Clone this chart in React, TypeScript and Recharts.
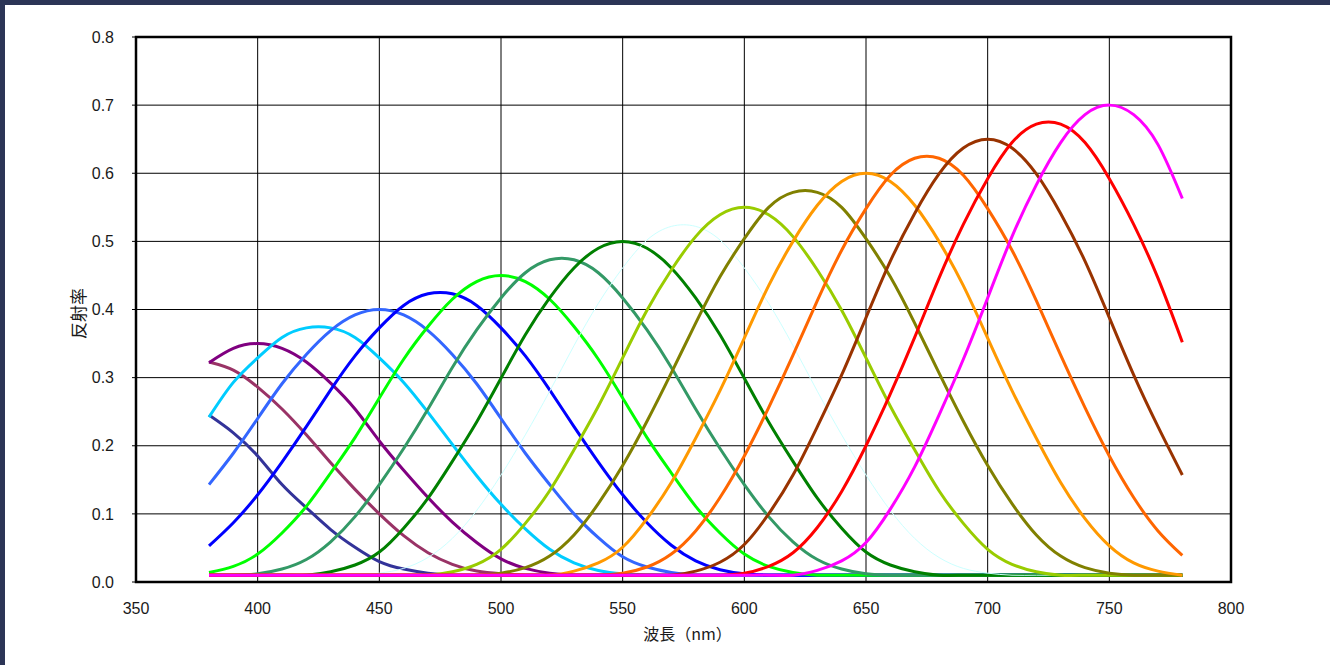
import React from "react";
import {
  LineChart, Line, XAxis, YAxis, CartesianGrid, ReferenceArea, Label,
} from "recharts";

// Wavelength samples (nm), every 10 nm
const WAVELENGTHS = [
  380, 390, 400, 410, 420, 430, 440, 450, 460, 470,
  480, 490, 500, 510, 520, 530, 540, 550, 560, 570,
  580, 590, 600, 610, 620, 630, 640, 650, 660, 670,
  680, 690, 700, 710, 720, 730, 740, 750, 760, 770, 780,
];

// Reflectance curves (one per peak wavelength)
const R350 = [0.245, 0.219, 0.185, 0.143, 0.109, 0.077, 0.051, 0.030, 0.019, 0.013,
  0.01, 0.01, 0.01, 0.01, 0.01, 0.01, 0.01, 0.01, 0.01, 0.01,
  0.01, 0.01, 0.01, 0.01, 0.01, 0.01, 0.01, 0.01, 0.01, 0.01,
  0.01, 0.01, 0.01, 0.01, 0.01, 0.01, 0.01, 0.01, 0.01, 0.01, 0.01];
const R375 = [0.323, 0.311, 0.286, 0.254, 0.216, 0.175, 0.136, 0.100, 0.068, 0.043,
  0.026, 0.016, 0.012, 0.01, 0.01, 0.01, 0.01, 0.01, 0.01, 0.01,
  0.01, 0.01, 0.01, 0.01, 0.01, 0.01, 0.01, 0.01, 0.01, 0.01,
  0.01, 0.01, 0.01, 0.01, 0.01, 0.01, 0.01, 0.01, 0.01, 0.01, 0.01];
const R400 = [0.322, 0.343, 0.350, 0.343, 0.323, 0.292, 0.254, 0.207, 0.164, 0.124,
  0.088, 0.058, 0.034, 0.020, 0.013, 0.01, 0.01, 0.01, 0.01, 0.01,
  0.01, 0.01, 0.01, 0.01, 0.01, 0.01, 0.01, 0.01, 0.01, 0.01,
  0.01, 0.01, 0.01, 0.01, 0.01, 0.01, 0.01, 0.01, 0.01, 0.01, 0.01];
const R425 = [0.242, 0.293, 0.329, 0.359, 0.373, 0.373, 0.359, 0.329, 0.293, 0.249,
  0.202, 0.156, 0.114, 0.078, 0.048, 0.028, 0.017, 0.012, 0.01, 0.01,
  0.01, 0.01, 0.01, 0.01, 0.01, 0.01, 0.01, 0.01, 0.01, 0.01,
  0.01, 0.01, 0.01, 0.01, 0.01, 0.01, 0.01, 0.01, 0.01, 0.01, 0.01];
const R450 = [0.143, 0.189, 0.240, 0.291, 0.334, 0.369, 0.392, 0.400, 0.392, 0.369,
  0.334, 0.291, 0.240, 0.189, 0.143, 0.100, 0.065, 0.037, 0.022, 0.014,
  0.01, 0.01, 0.01, 0.01, 0.01, 0.01, 0.01, 0.01, 0.01, 0.01,
  0.01, 0.01, 0.01, 0.01, 0.01, 0.01, 0.01, 0.01, 0.01, 0.01, 0.01];
const R475 = [0.053, 0.087, 0.128, 0.176, 0.228, 0.282, 0.332, 0.373, 0.406, 0.423,
  0.423, 0.406, 0.373, 0.332, 0.282, 0.228, 0.176, 0.128, 0.087, 0.054,
  0.031, 0.018, 0.012, 0.01, 0.01, 0.01, 0.01, 0.01, 0.01, 0.01,
  0.01, 0.01, 0.01, 0.01, 0.01, 0.01, 0.01, 0.01, 0.01, 0.01, 0.01];
const R500 = [0.014, 0.023, 0.041, 0.072, 0.111, 0.160, 0.212, 0.270, 0.327, 0.375,
  0.415, 0.441, 0.450, 0.441, 0.415, 0.375, 0.327, 0.270, 0.212, 0.160,
  0.111, 0.072, 0.041, 0.023, 0.014, 0.01, 0.01, 0.01, 0.01, 0.01,
  0.01, 0.01, 0.01, 0.01, 0.01, 0.01, 0.01, 0.01, 0.01, 0.01, 0.01];
const R525 = [0.01, 0.01, 0.012, 0.019, 0.033, 0.059, 0.096, 0.143, 0.196, 0.254,
  0.315, 0.370, 0.417, 0.454, 0.473, 0.473, 0.454, 0.417, 0.370, 0.315,
  0.254, 0.196, 0.143, 0.096, 0.059, 0.033, 0.019, 0.012, 0.01, 0.01,
  0.01, 0.01, 0.01, 0.01, 0.01, 0.01, 0.01, 0.01, 0.01, 0.01, 0.01];
const R550 = [0.01, 0.01, 0.01, 0.01, 0.01, 0.015, 0.025, 0.044, 0.079, 0.123,
  0.177, 0.235, 0.299, 0.363, 0.417, 0.461, 0.490, 0.500, 0.490, 0.461,
  0.417, 0.363, 0.299, 0.235, 0.177, 0.123, 0.079, 0.044, 0.025, 0.015,
  0.01, 0.01, 0.01, 0.01, 0.01, 0.01, 0.01, 0.01, 0.01, 0.01, 0.01];
const R575 = [0.01, 0.01, 0.01, 0.01, 0.01, 0.01, 0.01, 0.013, 0.020, 0.036,
  0.064, 0.105, 0.157, 0.216, 0.280, 0.347, 0.409, 0.461, 0.502, 0.522,
  0.522, 0.502, 0.461, 0.409, 0.347, 0.280, 0.216, 0.157, 0.105, 0.064,
  0.036, 0.020, 0.013, 0.01, 0.01, 0.01, 0.01, 0.01, 0.01, 0.01, 0.01];
const R600 = [0.01, 0.01, 0.01, 0.01, 0.01, 0.01, 0.01, 0.01, 0.01, 0.01,
  0.015, 0.026, 0.048, 0.086, 0.134, 0.194, 0.258, 0.329, 0.399, 0.458,
  0.507, 0.539, 0.550, 0.539, 0.507, 0.458, 0.399, 0.329, 0.258, 0.194,
  0.134, 0.086, 0.048, 0.026, 0.015, 0.01, 0.01, 0.01, 0.01, 0.01, 0.01];
const R625 = [0.01, 0.01, 0.01, 0.01, 0.01, 0.01, 0.01, 0.01, 0.01, 0.01,
  0.01, 0.01, 0.013, 0.021, 0.038, 0.069, 0.115, 0.171, 0.236, 0.307,
  0.380, 0.448, 0.504, 0.550, 0.572, 0.572, 0.550, 0.504, 0.448, 0.380,
  0.307, 0.236, 0.171, 0.115, 0.069, 0.038, 0.021, 0.013, 0.01, 0.01, 0.01];
const R650 = [0.01, 0.01, 0.01, 0.01, 0.01, 0.01, 0.01, 0.01, 0.01, 0.01,
  0.01, 0.01, 0.01, 0.01, 0.01, 0.016, 0.028, 0.051, 0.093, 0.146,
  0.211, 0.281, 0.358, 0.435, 0.500, 0.553, 0.588, 0.600, 0.588, 0.553,
  0.500, 0.435, 0.358, 0.281, 0.211, 0.146, 0.093, 0.053, 0.028, 0.016, 0.01];
const R675 = [0.01, 0.01, 0.01, 0.01, 0.01, 0.01, 0.01, 0.01, 0.01, 0.01,
  0.01, 0.01, 0.01, 0.01, 0.01, 0.01, 0.01, 0.013, 0.022, 0.041,
  0.075, 0.124, 0.185, 0.256, 0.333, 0.413, 0.487, 0.548, 0.597, 0.622,
  0.622, 0.597, 0.548, 0.487, 0.413, 0.333, 0.256, 0.185, 0.124, 0.075, 0.039];
const R700 = [0.01, 0.01, 0.01, 0.01, 0.01, 0.01, 0.01, 0.01, 0.01, 0.01,
  0.01, 0.01, 0.01, 0.01, 0.01, 0.01, 0.01, 0.01, 0.01, 0.01,
  0.016, 0.029, 0.055, 0.100, 0.157, 0.228, 0.304, 0.388, 0.471, 0.541,
  0.599, 0.637, 0.650, 0.637, 0.599, 0.541, 0.471, 0.388, 0.304, 0.228, 0.157];
const R725 = [0.01, 0.01, 0.01, 0.01, 0.01, 0.01, 0.01, 0.01, 0.01, 0.01,
  0.01, 0.01, 0.01, 0.01, 0.01, 0.01, 0.01, 0.01, 0.01, 0.01,
  0.01, 0.01, 0.013, 0.023, 0.043, 0.080, 0.133, 0.200, 0.276, 0.359,
  0.446, 0.525, 0.592, 0.645, 0.672, 0.672, 0.645, 0.592, 0.525, 0.446, 0.352];
const R750 = [0.01, 0.01, 0.01, 0.01, 0.01, 0.01, 0.01, 0.01, 0.01, 0.01,
  0.01, 0.01, 0.01, 0.01, 0.01, 0.01, 0.01, 0.01, 0.01, 0.01,
  0.01, 0.01, 0.01, 0.01, 0.01, 0.017, 0.031, 0.058, 0.107, 0.169,
  0.245, 0.327, 0.417, 0.507, 0.583, 0.645, 0.686, 0.700, 0.686, 0.642, 0.563];

const SERIES = [
  { key: "r350", values: R350, color: "#333399" },
  { key: "r375", values: R375, color: "#993366" },
  { key: "r400", values: R400, color: "#800080" },
  { key: "r425", values: R425, color: "#00CCFF" },
  { key: "r450", values: R450, color: "#3366FF" },
  { key: "r475", values: R475, color: "#0000FF" },
  { key: "r500", values: R500, color: "#00FF00" },
  { key: "r525", values: R525, color: "#339966" },
  { key: "r550", values: R550, color: "#008000" },
  { key: "r575", values: R575, color: "#CCFFFF", thin: true },
  { key: "r600", values: R600, color: "#99CC00" },
  { key: "r625", values: R625, color: "#808000" },
  { key: "r650", values: R650, color: "#FF9900" },
  { key: "r675", values: R675, color: "#FF6600" },
  { key: "r700", values: R700, color: "#993300" },
  { key: "r725", values: R725, color: "#FF0000" },
  { key: "r750", values: R750, color: "#FF00FF" },
];

const X_TICKS = [350, 400, 450, 500, 550, 600, 650, 700, 750, 800];
const Y_TICKS = [0, 0.1, 0.2, 0.3, 0.4, 0.5, 0.6, 0.7, 0.8];

const data = WAVELENGTHS.map((w, i) => {
  const row: Record<string, number> = { w };
  SERIES.forEach((s) => { row[s.key] = s.values[i]; });
  return row;
});

const TICK_FONT = { fill: "#1a1a1a", fontSize: 16, fontFamily: "'Liberation Sans', Arial, sans-serif" };
const TITLE_FONT = "'Noto Sans CJK JP', sans-serif";

export default function App() {
  return (
    <div style={{ position: "fixed", left: 0, top: 0, width: 1330, height: 665, background: "#2c3556" }}>
      <div style={{ position: "absolute", left: 5, top: 5, width: 1325, height: 660, background: "#ffffff" }}>
        <LineChart width={1325} height={660} data={data} margin={{ top: 32, right: 99, bottom: 0, left: 0 }}>
          <CartesianGrid stroke="#000" strokeWidth={1} />
          <XAxis
            dataKey="w"
            type="number"
            domain={[350, 800]}
            ticks={X_TICKS}
            height={83}
            tick={TICK_FONT}
            tickLine={false}
            tickSize={0}
            tickMargin={21}
            axisLine={false}
          >
            <Label
              content={(props: any) => {
                const vb = props.viewBox;
                return (
                  <text x={vb.x + vb.width / 2 + 4} y={vb.y + 58} textAnchor="middle"
                    fontSize={16} fontFamily={TITLE_FONT} fill="#1a1a1a">
                    波長（nm）
                  </text>
                );
              }}
            />
          </XAxis>
          <YAxis
            type="number"
            domain={[0, 0.8]}
            ticks={Y_TICKS}
            width={131}
            tick={TICK_FONT}
            tickSize={4}
            tickMargin={18}
            tickLine={{ stroke: "#000" }}
            axisLine={false}
            tickFormatter={(v: number) => v.toFixed(1)}
          >
            <Label
              content={(props: any) => {
                const vb = props.viewBox;
                const cx = 72;
                const cy = vb.y + vb.height / 2 + 4;
                return (
                  <text x={cx} y={cy} textAnchor="middle" dominantBaseline="central"
                    transform={`rotate(-90 ${cx} ${cy})`}
                    fontSize={17} fontFamily={TITLE_FONT} fill="#1a1a1a">
                    反射率
                  </text>
                );
              }}
            />
          </YAxis>

          {SERIES.map((s) => (
            <Line
              key={s.key}
              type="natural"
              dataKey={s.key}
              stroke={s.color}
              strokeWidth={s.thin ? 1 : 3}
              dot={false}
              activeDot={false}
              isAnimationActive={false}
            />
          ))}

          {/* plot frame */}
          <ReferenceArea x1={350} x2={800} y1={0} y2={0.8} fill="none" stroke="#000" strokeWidth={2.5} />
        </LineChart>
      </div>
    </div>
  );
}
